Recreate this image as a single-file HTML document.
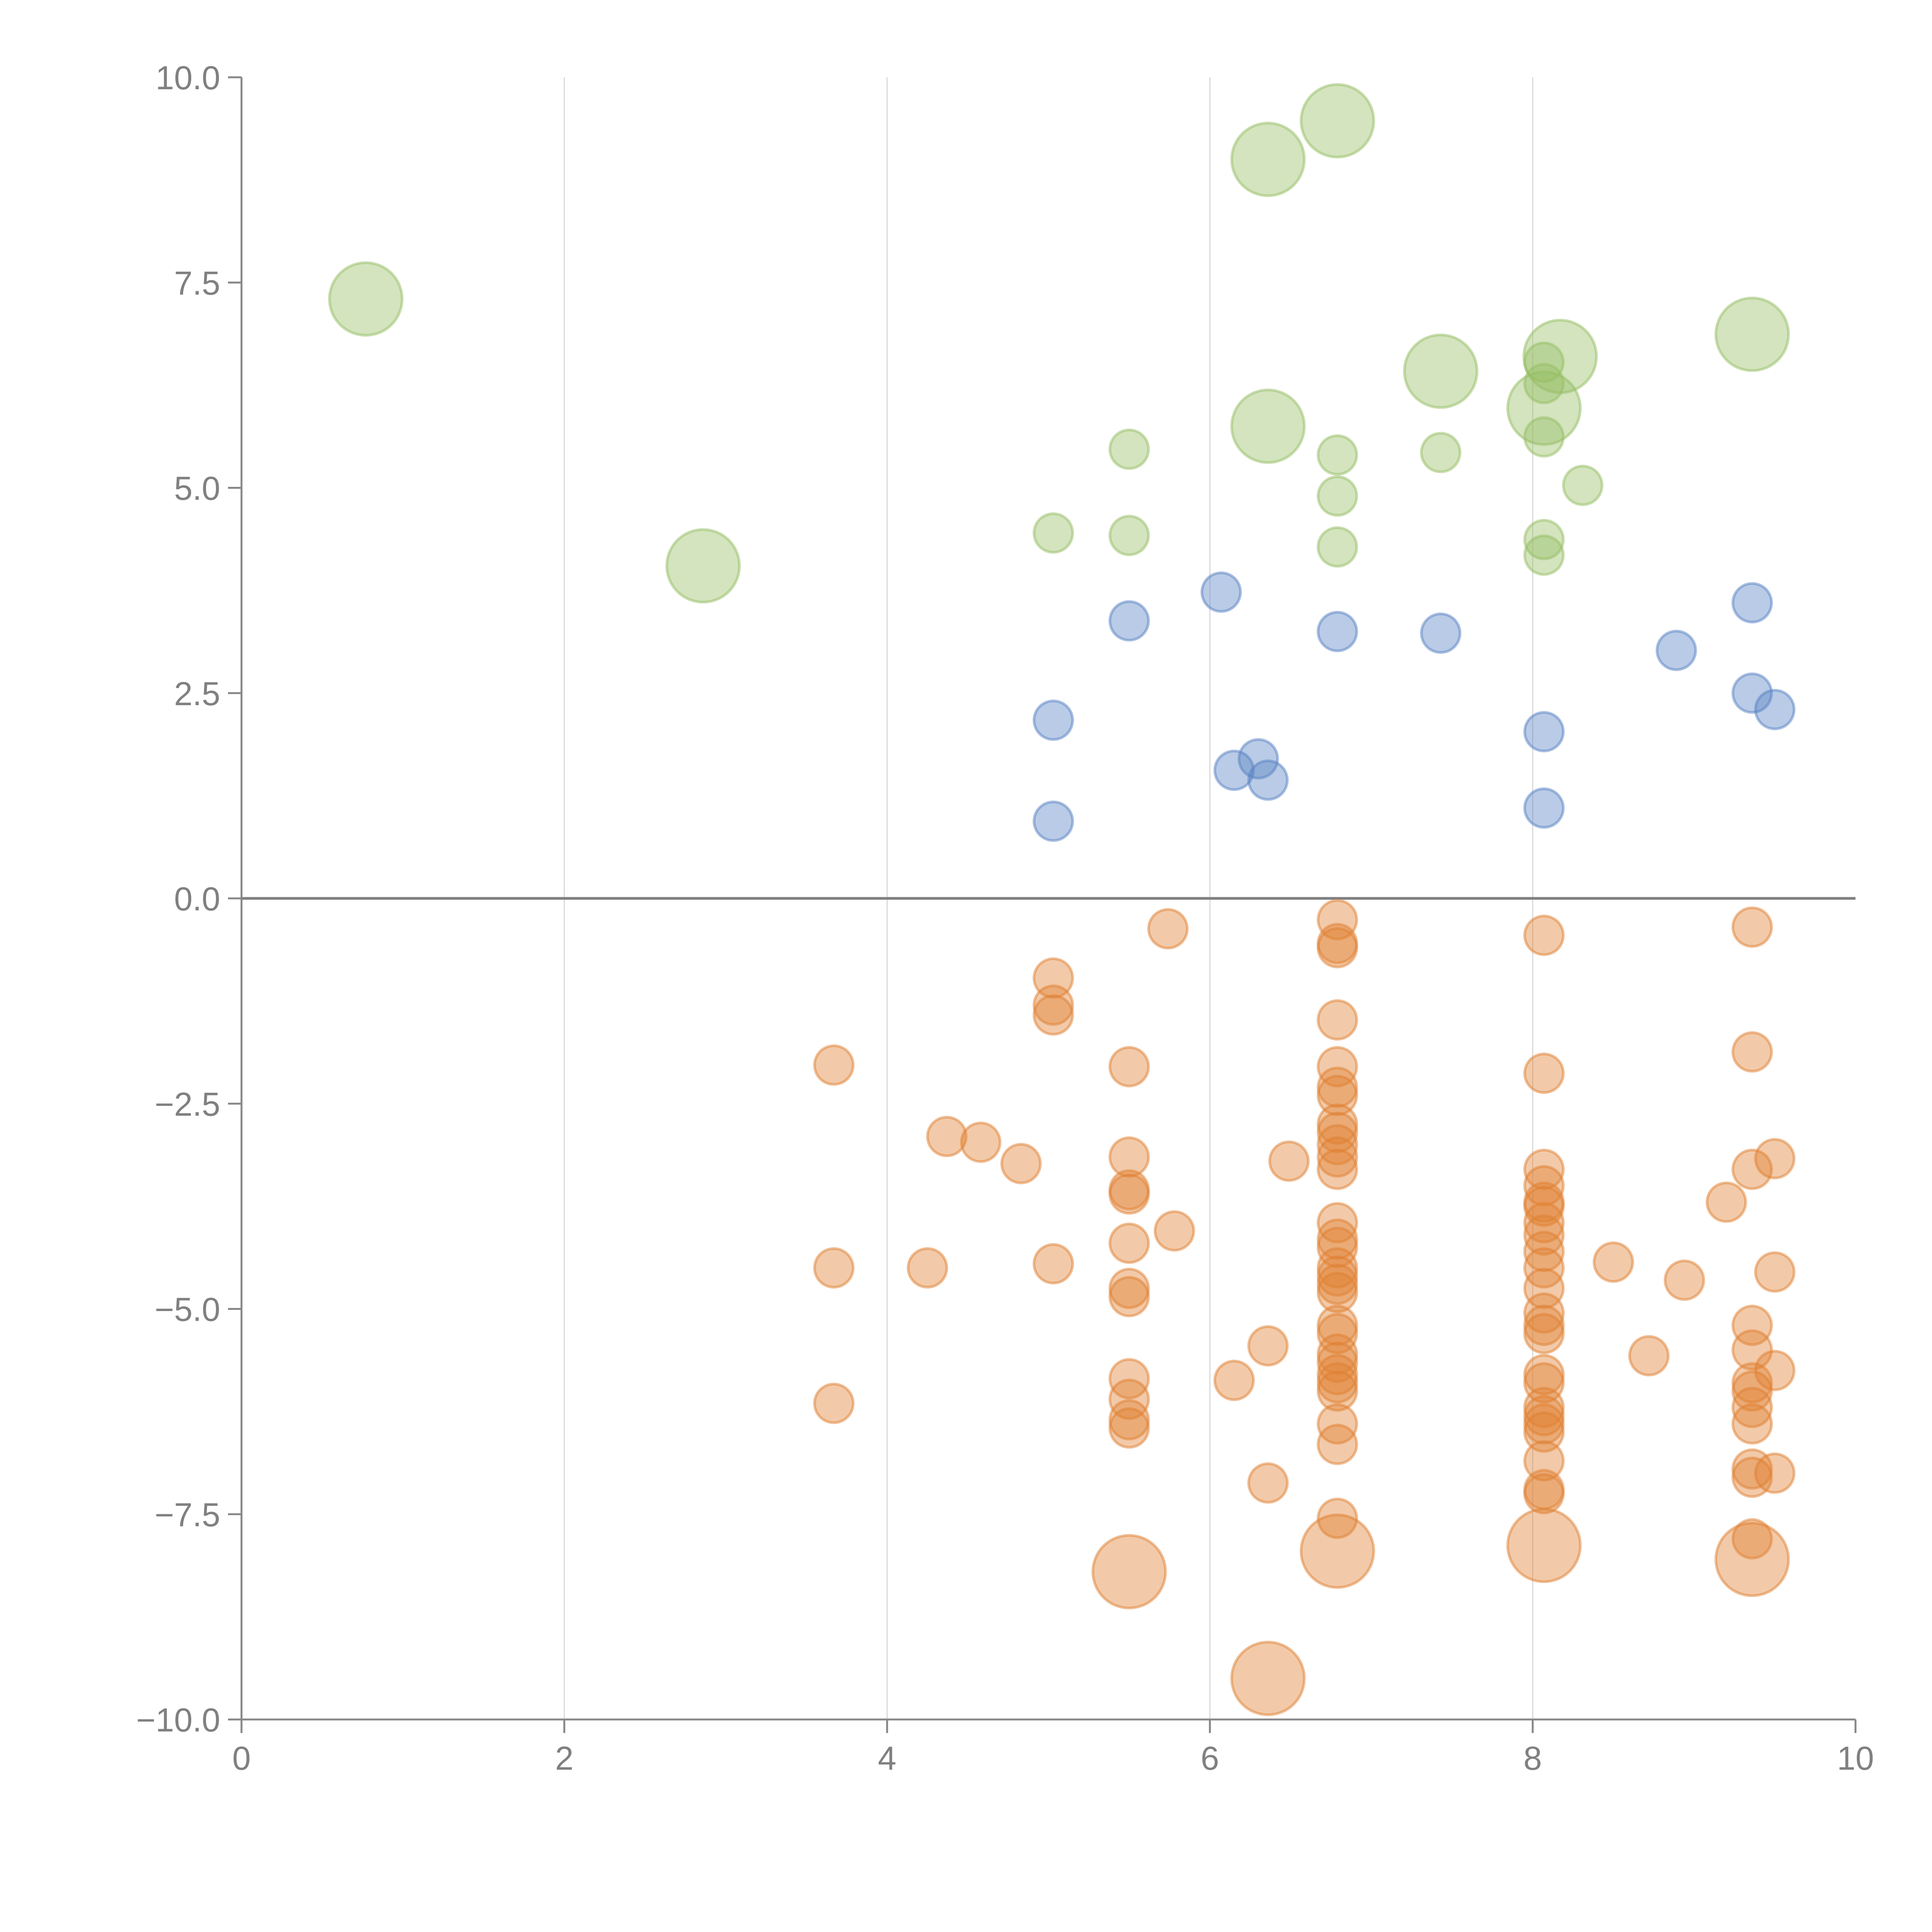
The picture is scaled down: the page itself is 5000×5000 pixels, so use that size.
<!DOCTYPE html>
<html><head><meta charset="utf-8"><style>
html,body{margin:0;padding:0;background:#fff;}
svg{display:block;}
text{font-family:"Liberation Sans",sans-serif;fill:#808080;font-size:86px;}
</style></head><body>
<svg id="chart" width="5000" height="5000" viewBox="0 0 5000 5000" xmlns="http://www.w3.org/2000/svg">
<g id="grid"></g>
<g id="axes"></g>
<g id="marks"></g>
</svg>
<script>
const xTicks=[0,2,4,6,8,10];
const yTicks=[10,7.5,5,2.5,0,-2.5,-5,-7.5,-10];
const yTickLabels=["10.0","7.5","5.0","2.5","0.0","\u22122.5","\u22125.0","\u22127.5","\u221210.0"];
// green series
const greenX=[0.77,2.86,6.36,6.79,7.43,8.17,8.07,9.36,6.36,5.5,5.03,5.5,6.79,6.79,6.79,7.43,8.07,8.07,8.07,8.31,8.07,8.07];
const greenY=[7.3,4.05,9.0,9.47,6.42,6.6,5.97,6.87,5.75,5.47,4.45,4.42,5.4,4.9,4.28,5.43,6.53,6.27,5.62,5.03,4.37,4.18];
const greenS=[2,2,2,2,2,2,2,2,2,1,1,1,1,1,1,1,1,1,1,1,1,1];
// blue series
const blueX=[6.07,5.5,6.79,7.43,8.89,9.36,9.36,9.5,5.03,8.07,6.3,6.15,6.36,8.07,5.03];
const blueY=[3.73,3.38,3.25,3.23,3.02,3.6,2.5,2.3,2.17,2.03,1.7,1.56,1.44,1.1,0.94];
// orange series
const orangeX=[
6.79,6.79,6.79,6.79,6.79,6.79,6.79,6.79,6.79,6.79,6.79,6.79,6.79,6.79,6.79,6.79,6.79,6.79,6.79,6.79,6.79,6.79,6.79,6.79,6.79,6.79,6.79,6.79,6.79,6.79,
8.07,8.07,8.07,8.07,8.07,8.07,8.07,8.07,8.07,8.07,8.07,8.07,8.07,8.07,8.07,8.07,8.07,8.07,8.07,8.07,8.07,8.07,8.07,8.07,
9.36,9.36,9.36,9.36,9.36,9.36,9.36,9.36,9.36,9.36,9.36,9.36,9.36,9.5,9.5,9.5,9.5,
5.5,5.5,5.5,5.5,5.5,5.5,5.5,5.5,5.5,5.5,5.5,5.5,
5.03,5.03,5.03,5.03,3.67,3.67,3.67,4.25,4.37,4.58,4.83,5.74,5.78,6.15,6.36,6.36,6.36,6.49,8.5,8.72,8.94,9.2];
const orangeY=[
-0.26,-0.55,-0.6,-1.48,-2.05,-2.3,-2.4,-2.75,-2.85,-3.0,-3.15,-3.3,-3.95,-4.15,-4.25,-4.5,-4.6,-4.7,-4.8,-5.2,-5.3,-5.55,-5.65,-5.8,-5.9,-6.0,-6.4,-6.65,-7.55,-7.95,
-0.45,-2.13,-3.3,-3.5,-3.7,-3.75,-3.95,-4.1,-4.3,-4.5,-4.75,-5.05,-5.2,-5.3,-5.8,-5.9,-6.2,-6.3,-6.4,-6.5,-6.85,-7.2,-7.25,-7.88,
-0.35,-1.87,-3.3,-5.2,-5.5,-5.9,-6.0,-6.2,-6.4,-6.95,-7.05,-7.8,-8.05,-3.17,-4.55,-5.75,-7.0,
-2.05,-3.15,-3.55,-3.6,-4.2,-4.75,-4.85,-5.85,-6.1,-6.35,-6.45,-8.2,
-0.97,-1.3,-1.42,-4.45,-2.03,-4.5,-6.15,-4.5,-2.9,-2.97,-3.23,-0.37,-4.05,-5.87,-5.45,-7.12,-9.5,-3.2,-4.43,-5.57,-4.65,-3.7];
const orangeS=[
1,1,1,1,1,1,1,1,1,1,1,1,1,1,1,1,1,1,1,1,1,1,1,1,1,1,1,1,1,2,
1,1,1,1,1,1,1,1,1,1,1,1,1,1,1,1,1,1,1,1,1,1,1,2,
1,1,1,1,1,1,1,1,1,1,1,1,2,1,1,1,1,
1,1,1,1,1,1,1,1,1,1,1,2,
1,1,1,1,1,1,1,1,1,1,1,1,1,1,1,1,2,1,1,1,1,1];

const NS="http://www.w3.org/2000/svg";
const X0=625,X1=4802,Y0=4450,Y1=200;
function sx(v){return X0+(v-0)/(10-0)*(X1-X0);}
function sy(v){return Y0-(v+10)/20*(Y0-Y1);}
function rad(s){return s===2?94:50;}
function mk(tag,attrs,parent){const e=document.createElementNS(NS,tag);for(const k in attrs)e.setAttribute(k,attrs[k]);parent.appendChild(e);return e;}
const grid=document.getElementById('grid'),axes=document.getElementById('axes'),marks=document.getElementById('marks');

xTicks.forEach(function(t){
  if(t>0&&t<10){
    const g=mk('line',{x1:sx(t),x2:sx(t),y1:Y1,y2:Y0,stroke:'#d9d9d9','stroke-width':3},grid);
    
    
  }
  const tk=mk('line',{x1:sx(t),x2:sx(t),y1:Y0,y2:Y0+35,stroke:'#888','stroke-width':5},axes);
  
  
  const lb=mk('text',{x:sx(t),y:Y0+130,'text-anchor':'middle'},axes);
  lb.textContent=String(t);
  
  
});
yTicks.forEach(function(t,i){
  const tk=mk('line',{x1:X0-35,x2:X0,y1:sy(t),y2:sy(t),stroke:'#888','stroke-width':5},axes);
  
  
  const lb=mk('text',{x:X0-55,y:sy(t)+31,'text-anchor':'end'},axes);
  lb.textContent=yTickLabels[i];
  
  
});
const ya=mk('line',{x1:X0,x2:X0,y1:Y1,y2:Y0,stroke:'#888','stroke-width':5},axes);


const xa=mk('line',{x1:X0,x2:X1,y1:Y0,y2:Y0,stroke:'#888','stroke-width':5},axes);


const zl=mk('line',{x1:X0,x2:X1,y1:sy(0),y2:sy(0),stroke:'#808080','stroke-width':7},axes);



function drawSeries(xs,ys,ss,color,name){
  for(let i=0;i<xs.length;i++){
    const c=mk('circle',{cx:sx(xs[i]),cy:sy(ys[i]),r:rad(ss?ss[i]:1),fill:color,'fill-opacity':0.42,stroke:color,'stroke-opacity':0.5,'stroke-width':7},marks);
    
    
  }
}
drawSeries(orangeX,orangeY,orangeS,'rgb(224,128,50)','orange');
drawSeries(blueX,blueY,null,'rgb(88,130,196)','blue');
drawSeries(greenX,greenY,greenS,'rgb(150,190,100)','green');
</script>
</body></html>
